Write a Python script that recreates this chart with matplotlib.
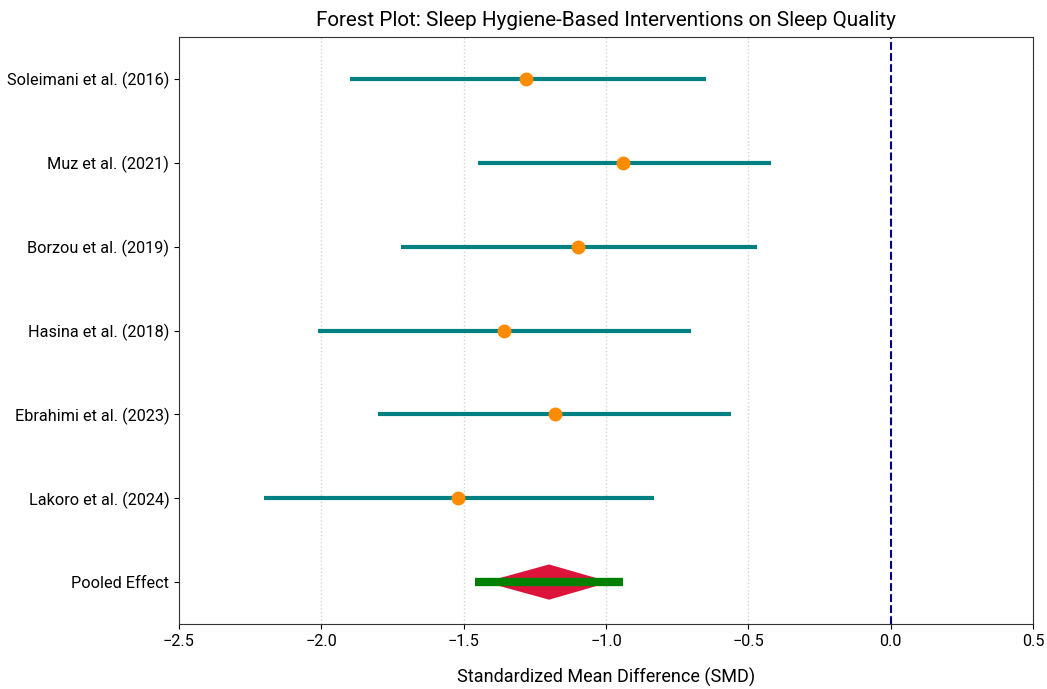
import numpy as np
import matplotlib
matplotlib.use('Agg')
from matplotlib import pyplot as plt

plt.rcParams['font.family'] = ['Roboto', 'DejaVu Sans']

studies = ['Soleimani et al. (2016)', 'Muz et al. (2021)', 'Borzou et al. (2019)',
			'Hasina et al. (2018)', 'Ebrahimi et al. (2023)', 'Lakoro et al. (2024)']
smd = [-1.28, -0.94, -1.10, -1.36, -1.18, -1.52]
ci_low = [-1.90, -1.45, -1.72, -2.01, -1.80, -2.20]
ci_high = [-0.65, -0.42, -0.47, -0.70, -0.56, -0.83]

pooled_smd = -1.20
pooled_low = -1.46
pooled_high = -0.94
diamond_low = -1.425
diamond_high = -0.985

labels = studies + ['Pooled Effect']

fig = plt.figure(figsize=(10.47, 6.89), dpi=100)
ax = fig.add_axes([179/1047, 1-624/689, (1033-179)/1047, (624-37)/689])

n = len(studies)
ypos = np.arange(n, 0, -1)
for index in range(n):
	ax.plot([ci_low[index], ci_high[index]], [ypos[index], ypos[index]],
			color='teal', linewidth=3, solid_capstyle='butt', zorder=3)
	ax.plot(smd[index], ypos[index], 'o', color='darkorange',
			markersize=9, zorder=4)

# pooled diamond
ax.fill([diamond_low, pooled_smd, diamond_high, pooled_smd],
		[0, 0.21, 0, -0.21], color='crimson', zorder=3, linewidth=0)
ax.plot([pooled_low, pooled_high], [0, 0], color='green', linewidth=6,
		solid_capstyle='butt', zorder=4)

ax.axvline(0, color='navy', linestyle='--', linewidth=1.5, zorder=2)

ax.set_xlim(-2.5, 0.5)
ax.set_ylim(-0.5, n + 0.5)
ax.set_yticks(list(ypos) + [0])
ax.set_yticklabels(labels, fontsize=11.7)
ax.set_xticks(np.arange(-2.5, 0.51, 0.5))
ax.tick_params(axis='x', labelsize=11.7)
ax.grid(True, axis='x', linestyle=':', color='lightgray', linewidth=1)
ax.set_axisbelow(True)
for spine in ax.spines.values():
	spine.set_color('#333333')
ax.set_xlabel('Standardized Mean Difference (SMD)', fontsize=13, labelpad=14)
ax.set_title('Forest Plot: Sleep Hygiene-Based Interventions on Sleep Quality',
			fontsize=14.9, pad=8)

plt.savefig('out.png', dpi=100)
